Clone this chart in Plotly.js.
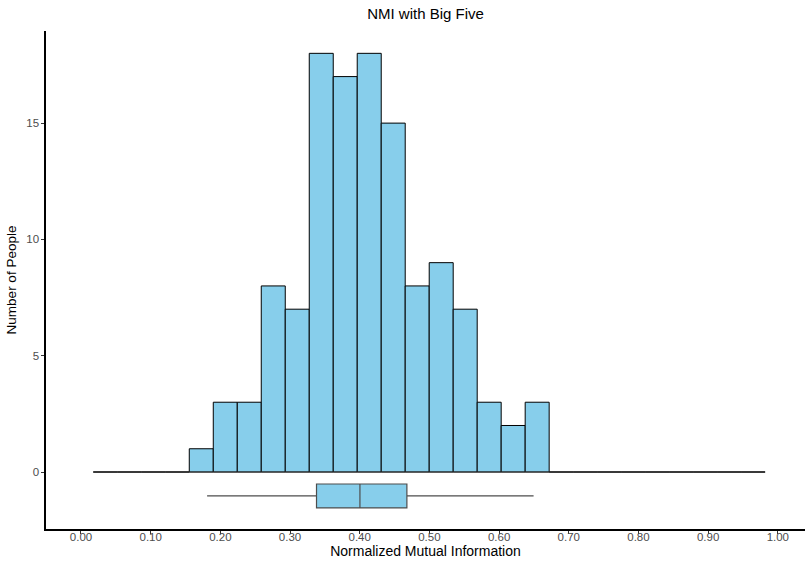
<!DOCTYPE html>
<html>
<head>
<meta charset="utf-8">
<script src="https://cdn.plot.ly/plotly-3.0.1.min.js"></script>
<style>html,body{margin:0;padding:0;background:#fff;}#chart{width:810px;height:564px;}</style>
</head>
<body>
<div id="chart"></div>
<script>
// Histogram bins (30-bin style)
const binStart = 0.0177;
const binWidth = 0.03443;
const counts = [0,0,0,0,1,3,3,8,7,18,17,18,15,8,9,7,3,2,3,0,0,0,0,0,0,0,0,0];

// Boxplot summary
const boxQ1 = 0.338;
const boxMedian = 0.4003;
const boxQ3 = 0.4677;
const boxLow = 0.181;
const boxHigh = 0.6495;
const boxY = -1.03;
const boxHeight = 1.03;

const xTicks = [0,0.1,0.2,0.3,0.4,0.5,0.6,0.7,0.8,0.9,1.0];
const xTickText = ["0.00","0.10","0.20","0.30","0.40","0.50","0.60","0.70","0.80","0.90","1.00"];
const yTicks = [0,5,10,15];

const centers = counts.map((c,i)=> binStart + binWidth*(i+0.5));
const firstEdge = binStart;
const lastEdge = binStart + binWidth*counts.length;

const traces = [
  {
    type:'scatter', mode:'lines',
    x:[firstEdge, lastEdge], y:[0,0],
    line:{color:'#333', width:0.9},
    hoverinfo:'skip', showlegend:false
  },
  {
    type:'bar',
    x: centers, y: counts,
    width: counts.map(()=>binWidth),
    marker:{color:'#87CEEB', line:{color:'#000', width:1}},
    showlegend:false
  },
  {
    type:'box', orientation:'h',
    y:[boxY], q1:[boxQ1], median:[boxMedian], q3:[boxQ3],
    lowerfence:[boxLow], upperfence:[boxHigh],
    width: boxHeight,
    whiskerwidth: 0,
    fillcolor:'#87CEEB',
    line:{color:'#4d4d4d', width:1.2},
    boxpoints:false,
    showlegend:false
  }
];

const layout = {
  width:810, height:564,
  margin:{l:46, r:5, t:31, b:35},
  paper_bgcolor:'#fff', plot_bgcolor:'#fff',
  font:{family:'Liberation Sans, Arial, sans-serif', color:'#4d4d4d'},
  title:{text:'NMI with Big Five', x:0.5, xref:'paper', y:0.975, yref:'container', yanchor:'middle',
         font:{size:15, color:'#000'}},
  bargap:0,
  xaxis:{
    range:[-0.0502, 1.039],
    tickvals:xTicks, ticktext:xTickText,
    showgrid:false, zeroline:false,
    showline:true, linecolor:'#000', linewidth:1.6,
    ticks:'outside', ticklen:3, tickcolor:'#333', tickwidth:1,
    ticklabelstandoff:-6,
    tickfont:{size:11.5, color:'#4d4d4d'},
    title:{text:'Normalized Mutual Information', font:{size:14, color:'#000'}, standoff:0},
    automargin:false
  },
  yaxis:{
    range:[-2.45, 18.96],
    tickvals:yTicks,
    showgrid:false, zeroline:false,
    showline:true, linecolor:'#000', linewidth:1.6,
    ticks:'outside', ticklen:3, tickcolor:'#333', tickwidth:1,
    tickfont:{size:11.5, color:'#4d4d4d'},
    title:{text:'Number of People', font:{size:13.5, color:'#000'}, standoff:6},
    automargin:false
  }
};

Plotly.newPlot('chart', traces, layout, {displayModeBar:false, staticPlot:true});
</script>
</body>
</html>
